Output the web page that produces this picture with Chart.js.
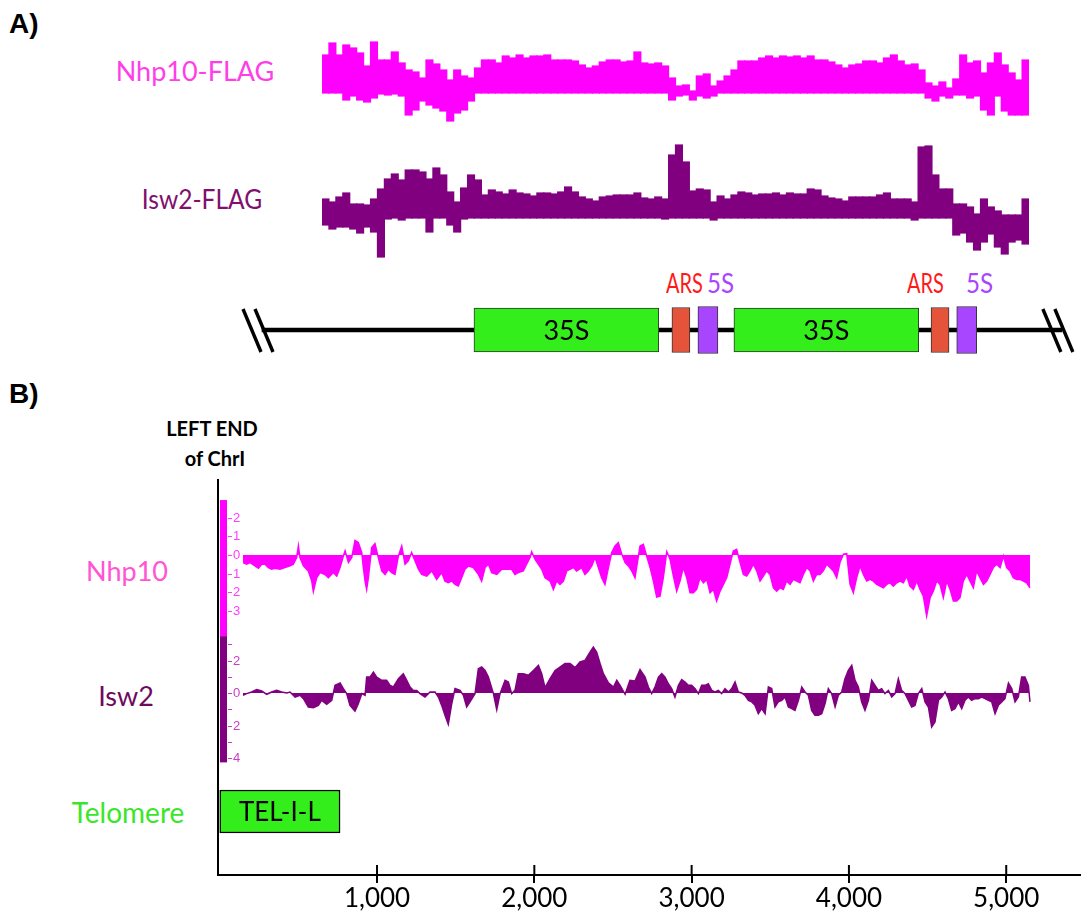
<!DOCTYPE html>
<html><head><meta charset="utf-8">
<script src="https://cdn.jsdelivr.net/npm/chart.js@4.4.1/dist/chart.umd.min.js"></script>
<style>
html,body{margin:0;padding:0;background:#fff}
body{width:1085px;height:918px;position:relative;overflow:hidden;font-family:Lato,'Open Sans',sans-serif}
canvas{position:absolute}
.t{position:absolute;white-space:nowrap;line-height:1}
.c{text-align:center;width:300px}
.n{transform:scaleX(0.77);transform-origin:left center}
.m{transform:scaleX(0.93);transform-origin:left center}
</style></head><body>
<div class="t" style="left:9px;top:8px;font:bold 28px 'Liberation Sans',Arial,sans-serif;color:#000">A)</div>
<div class="t" style="left:9px;top:378px;font:bold 28px 'Liberation Sans',Arial,sans-serif;color:#000">B)</div>
<div class="t c" style="left:45px;top:57px;font-size:27px;color:#ff3ee8">Nhp10-FLAG</div>
<div class="t c" style="left:52px;top:185px;font-size:27px;color:#80106e;transform:scaleX(0.91)">Isw2-FLAG</div>
<div class="t n" style="left:666px;top:270px;font-size:26px;color:#ff1a1a">ARS</div>
<div class="t m" style="left:707px;top:270px;font-size:26px;color:#a845ff">5S</div>
<div class="t n" style="left:907px;top:270px;font-size:26px;color:#ff1a1a">ARS</div>
<div class="t m" style="left:966px;top:270px;font-size:26px;color:#a845ff">5S</div>
<div class="t c" style="left:62px;top:418px;font-weight:bold;font-size:20px;color:#000">LEFT END</div>
<div class="t c" style="left:65px;top:448px;font-weight:bold;font-size:20px;color:#000">of ChrI</div>
<div class="t c" style="left:-23px;top:557px;font-size:27px;color:#ff55d5">Nhp10</div>
<div class="t c" style="left:-24px;top:682px;font-size:27px;color:#6e0a5e">Isw2</div>
<div class="t c" style="left:-22px;top:798px;font-size:28px;color:#3ae628">Telomere</div>

<canvas id="cA1" width="707" height="100" style="left:322px;top:33px"></canvas>
<canvas id="cA2" width="707" height="130" style="left:322px;top:138px"></canvas>
<canvas id="cMap" width="855" height="120" style="left:230px;top:270px"></canvas>
<canvas id="cB" width="1085" height="538" style="left:0px;top:380px"></canvas>
<canvas id="cTel" width="1085" height="55" style="left:0px;top:784px"></canvas>

<script>
// ---------- Panel A: rDNA locus tracks (equal-width bins along the repeat) ----------
const nhpTopA = [3.8,5.0,3.8,4.8,4.5,4.0,2.7,5.1,3.3,3.3,4.1,3.0,2.3,2.1,1.5,3.3,2.9,2.3,1.3,2.3,1.7,1.5,2.5,3.3,3.3,3.0,3.7,3.5,3.8,3.5,3.7,3.7,3.8,3.3,3.3,3.3,3.2,2.8,2.5,2.7,3.1,3.3,3.3,3.1,3.2,4.1,3.0,2.9,3.0,2.7,1.5,0.7,0.8,0.2,1.7,1.9,0.7,1.2,1.7,2.3,3.2,3.2,3.2,3.5,3.7,3.5,3.7,3.6,3.7,3.5,3.7,3.3,3.3,3.1,2.8,2.5,2.8,2.9,3.2,3.2,3.0,3.5,3.8,3.2,2.8,2.9,2.3,1.0,0.7,1.1,0.5,1.4,3.8,3.0,3.2,2.0,3.0,4.0,2.8,2.0,1.3,3.3];
const nhpBotA = [0,0,0,-0.7,-0.3,-0.7,-0.9,-0.5,-0.1,-0.2,-0.1,-0.3,-2.2,-1.7,-0.8,-1.2,-1.5,-1.8,-2.8,-2.0,-1.7,-0.8,0,0,0,0,0,0,0,0,0,0,0,0,0,0,0,0,0,0,0,0,0,0,0,0,0,0,0,0,-0.7,-0.3,-0.2,-0.7,-0.3,-0.5,-0.3,0,0,0,0,0,0,0,0,0,0,0,0,0,0,0,0,0,0,0,0,0,0,0,0,0,0,0,0,0,0,-0.5,-0.8,-0.3,-0.5,-0.2,-0.2,-0.5,-0.3,-1.7,-2.2,-0.3,-1.8,-2.2,-2.2,-2.2];
const iswTopA = [1.9,1.6,2.1,2.5,1.4,1.4,1.3,1.9,2.9,3.9,4.4,3.8,4.8,4.8,4.6,3.9,5.0,4.3,2.6,1.6,3.0,4.3,3.8,2.3,2.8,2.6,2.4,2.8,2.5,2.4,2.2,2.5,2.5,2.4,2.6,3.1,2.6,2.1,1.9,1.7,2.1,2.2,2.3,2.3,2.3,2.5,2.0,1.9,2.1,1.9,6.3,7.3,5.6,2.7,2.9,2.8,1.6,2.2,1.9,2.3,2.6,2.5,2.3,2.4,2.4,2.5,2.3,2.5,2.4,2.4,2.9,2.8,2.2,2.0,1.9,1.7,2.1,2.1,2.1,2.1,2.3,2.5,1.9,1.9,1.9,1.6,7.1,7.2,4.3,2.9,2.9,1.4,1.4,1.1,0.4,1.9,1.1,0.7,0.3,0.3,0.3,1.9];
const iswBotA = [-0.7,-1.1,-0.9,-0.9,-1.1,-1.5,-0.9,-1.4,-3.9,-0.1,0,-0.2,0,0,0,-1.4,0,0,-0.7,-1.4,-0.1,0,0,0,0,0,0,0,0,0,0,0,0,0,0,0,0,0,0,0,0,0,0,0,0,0,0,0,0,-0.1,0,0,0,0,0,0,-0.2,0,0,0,0,0,0,0,0,0,0,0,0,0,0,0,0,0,0,0,0,0,0,0,0,0,0,0,0,-0.2,0,0,0,0,0,-1.7,-1.5,-2.4,-3.2,-2.4,-1.6,-2.9,-3.6,-2.4,-2.2,-2.6];

// rDNA map features (kb along the locus)
const mapLabels = ['line','35S','ARS','5S','35S','ARS','5S'];
const mapStart  = [-7.42, 0.00, 6.93, 7.84, 9.10, 16.00, 16.90];
const mapEnd    = [20.58, 6.47, 7.56, 8.54, 15.57, 16.63, 17.60];

// ---------- Panel B: left end of ChrI (bp) ----------
const posN = [148,171,193,224,246,267,288,309,330,352,383,415,447,468,489,500,510,532,563,585,595,616,638,669,691,722,744,765,786,797,818,839,860,881,903,913,924,934,945,966,987,1008,1030,1051,1072,1093,1114,1136,1157,1178,1199,1220,1242,1263,1284,1316,1348,1379,1411,1432,1453,1475,1496,1517,1538,1559,1581,1612,1644,1665,1687,1708,1729,1761,1793,1824,1856,1877,1898,1930,1951,1973,1983,2004,2026,2047,2068,2100,2121,2142,2163,2185,2206,2227,2248,2269,2301,2322,2343,2365,2386,2407,2428,2449,2471,2492,2513,2534,2555,2577,2598,2619,2640,2672,2693,2714,2736,2757,2778,2799,2820,2842,2863,2884,2905,2926,2947,2969,2990,3011,3032,3053,3075,3096,3117,3138,3159,3181,3202,3223,3244,3265,3286,3308,3329,3350,3371,3392,3414,3435,3456,3477,3498,3520,3541,3562,3583,3604,3626,3647,3668,3689,3710,3732,3753,3774,3795,3816,3837,3859,3880,3901,3922,3943,3965,3986,4007,4028,4049,4071,4092,4113,4134,4155,4177,4198,4219,4240,4261,4282,4304,4325,4346,4367,4388,4410,4431,4452,4473,4494,4516,4537,4558,4579,4600,4622,4643,4664,4685,4706,4727,4749,4770,4791,4812,4833,4855,4876,4897,4918,4939,4961,4982,5003,5024,5045,5066,5088,5109,5130,5151];
const nhpB = [-0.41,-0.50,-0.41,-0.59,-0.72,-0.50,-0.50,-0.68,-0.77,-0.72,-0.77,-0.68,-0.59,-0.50,-0.14,0.49,-0.14,-0.59,-0.86,-1.41,-1.98,-1.23,-0.95,-1.05,-1.23,-0.95,-1.14,-0.68,-0.05,0.23,-0.41,-0.14,0.79,0.67,0.13,-0.68,-1.41,-1.86,-1.23,0.40,0.61,-0.14,-0.86,-1.05,-0.77,-0.95,-1.05,-0.05,0.49,-0.50,-0.32,0.13,-0.32,-0.77,-1.05,-1.14,-0.86,-1.32,-0.95,-1.41,-1.50,-1.41,-1.59,-1.68,-1.23,-0.77,-0.59,-0.68,-1.05,-1.41,-0.68,-0.50,-0.95,-1.05,-0.77,-0.77,-0.77,-1.05,-0.95,-0.86,-0.50,-0.14,0.18,-0.23,-0.50,-0.77,-1.23,-1.41,-1.86,-1.41,-1.59,-1.41,-0.86,-0.77,-0.68,-0.86,-0.68,-1.05,-0.86,-0.59,-0.14,-0.68,-1.23,-1.59,-0.68,0.13,0.49,0.67,0.07,-0.41,-0.59,-0.86,-1.23,0.49,0.58,-0.05,-0.68,-1.41,-2.27,-2.22,-1.23,0.18,-0.23,-1.14,-1.95,-1.41,-0.68,-1.23,-2.04,-2.04,-1.86,-1.23,-1.50,-1.32,-2.04,-1.86,-2.49,-1.95,-1.59,-1.23,-0.50,0.22,0.31,-0.41,-1.05,-1.14,-0.86,-0.50,-0.86,-1.41,-1.14,-0.86,-1.05,-1.77,-1.95,-1.77,-1.86,-1.41,-1.59,-1.32,-1.41,-1.50,-1.05,-0.68,-0.86,-1.41,-1.05,-1.05,-0.86,-0.50,-0.68,-0.86,-1.23,-0.41,0.04,0.07,-1.59,-2.04,-1.23,-0.59,-1.05,-1.41,-1.32,-1.41,-1.59,-1.68,-1.77,-1.59,-1.50,-1.68,-1.50,-1.41,-1.50,-1.14,-1.68,-1.86,-1.41,-1.86,-2.22,-3.30,-2.31,-1.95,-1.41,-1.59,-2.31,-1.41,-1.86,-2.49,-2.49,-2.31,-1.41,-1.05,-1.41,-1.77,-0.86,-1.23,-1.59,-1.41,-1.05,-0.68,-0.50,-0.68,-0.05,-0.68,-0.86,-1.23,-1.32,-1.32,-1.41,-1.50,-1.77];
const posI = [148,171,203,235,267,299,330,362,394,426,447,479,510,532,563,595,627,648,680,712,733,765,786,807,828,860,881,903,924,934,955,977,998,1030,1061,1083,1104,1136,1167,1189,1210,1231,1252,1273,1305,1337,1369,1390,1411,1432,1453,1475,1496,1528,1549,1570,1591,1623,1644,1665,1687,1708,1740,1761,1782,1814,1835,1856,1877,1898,1930,1962,1994,2026,2047,2068,2100,2132,2163,2195,2227,2259,2290,2322,2354,2375,2396,2418,2439,2471,2503,2524,2545,2577,2608,2640,2672,2704,2725,2746,2767,2789,2810,2831,2852,2873,2894,2916,2937,2958,2979,3000,3022,3043,3064,3085,3106,3128,3149,3170,3191,3212,3234,3255,3276,3297,3318,3339,3361,3382,3403,3424,3445,3467,3488,3509,3530,3551,3573,3594,3615,3636,3657,3679,3700,3721,3742,3763,3784,3806,3827,3848,3869,3890,3912,3933,3954,3975,3996,4018,4039,4060,4081,4102,4124,4145,4166,4187,4208,4229,4251,4272,4293,4314,4335,4357,4378,4399,4420,4441,4463,4484,4505,4526,4547,4569,4590,4611,4632,4653,4674,4696,4717,4738,4759,4780,4802,4823,4844,4865,4886,4908,4929,4950,4971,4992,5014,5035,5056,5077,5098,5119,5141,5151];
const iswB = [-0.14,-0.04,0.06,0.21,0.12,-0.08,0.06,0.16,0.06,0,0.06,-0.25,-0.14,-0.35,-0.86,-0.90,-0.76,-0.45,-0.70,-0.45,0.47,0.62,0.27,-0.04,-0.76,-1.11,-0.66,-0.04,-0.14,0.98,0.98,1.29,0.98,0.78,0.78,0.47,0.37,0.88,1.19,0.78,0.37,0.16,0.16,-0.04,-0.25,0.06,0.06,-0.25,-0.76,-1.37,-1.93,-0.66,0.27,0.16,-0.14,-0.86,-0.55,-0.04,1.50,1.60,1.39,0.98,-0.04,-1.03,-0.04,0.78,0.68,-0.04,0.16,1.19,1.19,1.09,1.39,1.70,1.19,0.33,0.88,1.39,1.60,1.81,1.81,1.56,1.91,2.01,2.52,2.83,2.52,1.81,1.19,0.62,0.37,0.78,0.47,-0.08,0.78,0.74,1.44,0.98,0.37,-0.04,0.37,0.98,1.19,0.98,0.57,0.27,-0.25,0.47,0.82,0.68,0.47,0.47,0.27,-0.04,0.47,0.47,0.57,0.16,0.06,0.16,-0.04,0.27,0.06,0.27,0.68,0.06,0,-0.14,-0.45,-0.55,-0.76,-1.27,-0.96,-1.27,0.37,0.27,-0.86,-0.55,-0.45,-0.25,-0.86,-0.96,-1.07,-0.45,0.37,0.06,-0.14,-1.07,-1.37,-1.37,-1.27,-0.66,0.27,-0.04,-0.86,-0.14,0.06,0.88,1.39,1.70,0.78,0.37,-0.55,-1.07,-0.45,0.78,0.47,0.16,0.27,-0.04,0.16,-0.25,-0.04,0.88,0.16,-0.04,-0.45,-0.86,-0.76,-0.04,0.27,-0.55,-0.86,-2.09,-1.78,-0.45,-0.25,0.06,-0.35,-1.07,-0.96,-0.55,-0.96,-0.45,-0.25,-0.45,-0.35,-0.35,-0.25,-0.35,-0.45,-0.55,-1.27,-0.76,-0.55,-0.35,0.62,0.27,-0.55,-0.25,0.98,0.98,0.47,-0.55];
const telLabel = ['TEL-I-L'];
const telStart = [0];
const telEnd = [765];
const xTicksB = [1000, 2000, 3000, 4000, 5000];
const nhpAxisTicks = [2, 1, 0, -1, -2, -3];
const iswAxisTicks = [3, 2, 1, 0, -1, -2, -3, -4];
const iswAxisLabels = [2, 0, -2, -4];

// ---------- helpers ----------
const MAGENTA = '#ff00ff', PURPLE = '#800080';
const base = { responsive:false, animation:false, events:[], maintainAspectRatio:false,
  plugins:{ legend:{display:false}, tooltip:{enabled:false} } };

function trackA(id, top, bot, color, min, max) {
  new Chart(document.getElementById(id), {
    type:'bar',
    data:{ labels: top.map((_, i) => 'bin' + (i + 1)),
      datasets:[{ data: top.map((t, i) => [bot[i], t]), backgroundColor: color, borderWidth:0,
        barPercentage:1, categoryPercentage:1, inflateAmount:0.6 }] },
    options:Object.assign({}, base, { layout:{padding:0},
      scales:{ x:{display:false}, y:{display:false, min, max} } })
  });
}
trackA('cA1', nhpTopA, nhpBotA, MAGENTA, -4, 6);
trackA('cA2', iswTopA, iswBotA, PURPLE, -5, 8);

// text inside bars
const barText = { id:'barText', afterDatasetsDraw(chart) {
  const ctx = chart.ctx;
  chart.data.datasets.forEach((ds, di) => {
    if (!ds.inside) return;
    chart.getDatasetMeta(di).data.forEach(el => {
      ctx.save(); ctx.fillStyle = '#000'; ctx.font = ds.inside;
      ctx.textAlign = 'center'; ctx.textBaseline = 'middle';
      ctx.fillText(ds.label, (el.x + el.base) / 2, el.y + 1);
      ctx.restore();
    });
  });
}};

// break marks at the ends of the rDNA line
const breaks = { id:'breaks', afterDatasetsDraw(chart) {
  const ctx = chart.ctx, xs = chart.scales.x, cy = chart.chartArea.top + chart.chartArea.height / 2;
  [xs.getPixelForValue(mapStart[0]), xs.getPixelForValue(mapEnd[0])].forEach(e => {
    ctx.save(); ctx.strokeStyle = '#000'; ctx.lineWidth = 3.4;
    [-9, 3].forEach(dx => { ctx.beginPath(); ctx.moveTo(e + dx - 10, cy - 21); ctx.lineTo(e + dx + 8, cy + 22); ctx.stroke(); });
    ctx.restore();
  });
}};

const mapStyle = { line:['#000','#000',4,0,2], '35S':['#33ee1a','#333',44,1,1], ARS:['#e5543a','#333',45,1,1], '5S':['#a845ff','#333',47,1,1] };
new Chart(document.getElementById('cMap'), {
  type:'bar',
  data:{ labels:['rDNA'], datasets: mapLabels.map((lab, i) => ({
    label: lab, data:[[mapStart[i], mapEnd[i]]],
    backgroundColor: mapStyle[lab][0], borderColor: mapStyle[lab][1], barThickness: mapStyle[lab][2],
    borderWidth: mapStyle[lab][3], order: mapStyle[lab][4], grouped:false, borderSkipped:false,
    inside: lab === '35S' ? '27px Lato' : null })) },
  options:Object.assign({}, base, { indexAxis:'y', layout:{padding:0},
    scales:{ x:{type:'linear', display:false, min:-8.54, max:21.39}, y:{display:false} } }),
  plugins:[barText, breaks]
});

// side axes of panel B tracks + crossing x tick marks
const sideAxes = { id:'sideAxes', afterDraw(chart) {
  const ctx = chart.ctx, L = chart.chartArea.left, B = chart.chartArea.bottom, xs = chart.scales.x;
  const defs = [
    { s: chart.scales.yN, top: 2.97, bot: -4.38, bar: MAGENTA, col: '#ff3cff', ticks: nhpAxisTicks, labels: nhpAxisTicks },
    { s: chart.scales.yI, top: 3.5, bot: -4.27, bar: PURPLE, col: '#c83cc8', ticks: iswAxisTicks, labels: iswAxisLabels }
  ];
  ctx.save();
  defs.forEach(d => {
    const y0 = d.s.getPixelForValue(d.top), y1 = d.s.getPixelForValue(d.bot);
    ctx.fillStyle = d.bar; ctx.fillRect(L + 2, y0, 7, y1 - y0);
    ctx.strokeStyle = d.col; ctx.fillStyle = d.col; ctx.lineWidth = 1;
    ctx.font = '13px Arial'; ctx.textBaseline = 'middle'; ctx.textAlign = 'left';
    d.ticks.forEach(v => {
      const y = Math.round(d.s.getPixelForValue(v)) + 0.5;
      ctx.beginPath(); ctx.moveTo(L + 10, y); ctx.lineTo(L + 14, y); ctx.stroke();
      if (d.labels.includes(v)) ctx.fillText(String(Math.abs(v)), L + 15, y);
    });
  });
  ctx.strokeStyle = '#000'; ctx.lineWidth = 2;
  xTicksB.forEach(v => { const x = xs.getPixelForValue(v); ctx.beginPath(); ctx.moveTo(x, B - 10); ctx.lineTo(x, B); ctx.stroke(); });
  ctx.restore();
}};

const xB = { type:'linear', min:-11, max:5469 };
new Chart(document.getElementById('cB'), {
  type:'line',
  data:{ datasets:[
    { label:'Nhp10', data: posN.map((x, i) => ({x, y: nhpB[i]})), yAxisID:'yN', borderColor:MAGENTA, backgroundColor:MAGENTA,
      fill:'origin', pointRadius:0, borderWidth:1.5, tension:0 },
    { label:'Isw2', data: posI.map((x, i) => ({x, y: iswB[i]})), yAxisID:'yI', borderColor:PURPLE, backgroundColor:PURPLE,
      fill:'origin', pointRadius:0, borderWidth:1.5, tension:0 }
  ]},
  options:Object.assign({}, base, {
    layout:{ padding:{ left:218, right:5, top:100, bottom:0 } },
    scales:{
      x:Object.assign({}, xB, {
        grid:{ display:true, drawOnChartArea:false, drawTicks:true, tickLength:8, color:'#000', lineWidth:2 },
        border:{ display:true, color:'#000', width:2 },
        afterBuildTicks: s => { s.ticks = xTicksB.map(v => ({ value: v })); },
        ticks:{ color:'#000', font:{ family:'Lato', size:26 }, padding:0, maxRotation:0, autoSkip:false,
          callback: v => Number(v).toLocaleString('en-US') },
        afterFit: s => { s.height = 43; }
      }),
      y:{ type:'linear', min:0, max:1, grid:{display:false}, ticks:{display:false},
        border:{ display:true, color:'#000', width:2 }, afterFit: s => { s.width = 0; } },
      yN:{ type:'linear', display:false, min:-17.297, max:4.054 },
      yI:{ type:'linear', display:false, min:-11.2, max:13.108 }
    }
  }),
  plugins:[sideAxes]
});

// telomere feature
new Chart(document.getElementById('cTel'), {
  type:'bar',
  data:{ labels: telLabel, datasets:[{ label: telLabel[0], data: telStart.map((s, i) => [s, telEnd[i]]),
    backgroundColor:'#33ee1a', borderColor:'#000', borderWidth:1.5, borderSkipped:false, barThickness:43,
    inside:'26px Lato' }] },
  options:Object.assign({}, base, { indexAxis:'y', layout:{ padding:{ left:218, right:5, top:0, bottom:0 } },
    scales:{ x:Object.assign({}, xB, { display:false }), y:{ display:false } } }),
  plugins:[barText]
});
</script>
</body></html>
